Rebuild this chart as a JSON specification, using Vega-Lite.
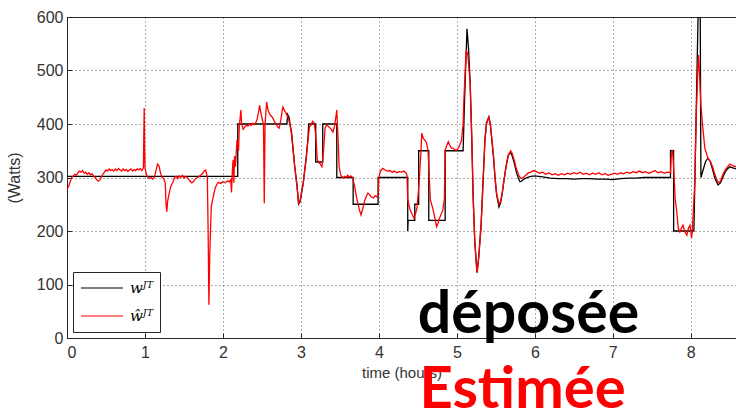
{
"$schema": "https://vega.github.io/schema/vega-lite/v6.json",
"width": 669, "height": 321,
"autosize": {"type": "none"},
"padding": {"left": 67, "top": 17, "right": 0, "bottom": 76},
"background": "white",
"config": {
  "view": {"stroke": "#262626", "strokeWidth": 1},
  "axis": {"labelFont": "Liberation Sans", "labelFontSize": 16, "labelColor": "#333333", "titleFont": "Liberation Sans", "titleFontSize": 15, "titleFontWeight": "normal", "titleColor": "#333333", "domainColor": "#262626", "tickColor": "#262626", "gridColor": "#333333", "gridDash": [1, 3], "gridOpacity": 0.8, "tickSize": -5}
},
"datasets": {
  "black": [
    {"t":0,"w":302},{"t":2.19,"w":302},{"t":2.19,"w":400},{"t":2.82,"w":400},{"t":2.83,"w":418},{"t":2.85,"w":412},{"t":2.86,"w":400},{"t":2.88,"w":385},{"t":2.9,"w":352},{"t":2.92,"w":322},{"t":2.95,"w":285},{"t":2.97,"w":250},{"t":2.99,"w":255},{"t":3.01,"w":272},{"t":3.03,"w":290},{"t":3.05,"w":315},{"t":3.07,"w":340},{"t":3.09,"w":372},{"t":3.1,"w":400},{"t":3.19,"w":400},{"t":3.19,"w":329},{"t":3.28,"w":329},{"t":3.28,"w":400},{"t":3.46,"w":400},{"t":3.46,"w":300},{"t":3.67,"w":300},{"t":3.67,"w":250},{"t":3.99,"w":250},{"t":3.99,"w":300},{"t":4.37,"w":300},{"t":4.37,"w":200},{"t":4.375,"w":220},{"t":4.46,"w":220},{"t":4.46,"w":250},{"t":4.51,"w":250},{"t":4.51,"w":350},{"t":4.64,"w":350},{"t":4.64,"w":220},{"t":4.85,"w":220},{"t":4.85,"w":350},{"t":5.08,"w":350},{"t":5.1,"w":450},{"t":5.13,"w":578},{"t":5.15,"w":540},{"t":5.17,"w":480},{"t":5.19,"w":380},{"t":5.21,"w":260},{"t":5.23,"w":180},{"t":5.26,"w":122},{"t":5.28,"w":150},{"t":5.31,"w":210},{"t":5.33,"w":275},{"t":5.36,"w":370},{"t":5.38,"w":402},{"t":5.41,"w":413},{"t":5.43,"w":398},{"t":5.45,"w":368},{"t":5.47,"w":338},{"t":5.49,"w":298},{"t":5.51,"w":268},{"t":5.54,"w":245},{"t":5.56,"w":252},{"t":5.58,"w":268},{"t":5.6,"w":290},{"t":5.63,"w":320},{"t":5.66,"w":342},{"t":5.69,"w":347},{"t":5.71,"w":340},{"t":5.74,"w":325},{"t":5.76,"w":312},{"t":5.79,"w":298},{"t":5.81,"w":292},{"t":5.83,"w":293},{"t":5.86,"w":297},{"t":5.9,"w":300},{"t":5.95,"w":302},{"t":6.0,"w":303},{"t":6.1,"w":301},{"t":6.2,"w":299},{"t":6.3,"w":298},{"t":6.4,"w":298},{"t":6.5,"w":297},{"t":6.6,"w":298},{"t":6.7,"w":298},{"t":6.8,"w":297},{"t":6.9,"w":297},{"t":7.0,"w":296},{"t":7.1,"w":298},{"t":7.2,"w":299},{"t":7.3,"w":299},{"t":7.4,"w":300},{"t":7.5,"w":300},{"t":7.6,"w":300},{"t":7.74,"w":300},{"t":7.74,"w":350},{"t":7.78,"w":350},{"t":7.78,"w":200},{"t":8.04,"w":200},{"t":8.08,"w":500},{"t":8.1,"w":650},{"t":8.12,"w":650},{"t":8.13,"w":300},{"t":8.16,"w":315},{"t":8.19,"w":330},{"t":8.22,"w":336},{"t":8.25,"w":330},{"t":8.28,"w":315},{"t":8.31,"w":298},{"t":8.35,"w":286},{"t":8.38,"w":290},{"t":8.41,"w":300},{"t":8.44,"w":310},{"t":8.47,"w":316},{"t":8.5,"w":320},{"t":8.54,"w":318},{"t":8.58,"w":316}
  ],
  "red": [
    {"t":0,"w":278},{"t":0.02,"w":283},{"t":0.04,"w":292},{"t":0.06,"w":300},{"t":0.08,"w":303},{"t":0.1,"w":306},{"t":0.12,"w":304},{"t":0.14,"w":309},{"t":0.16,"w":312},{"t":0.18,"w":310},{"t":0.2,"w":313},{"t":0.22,"w":308},{"t":0.24,"w":310},{"t":0.26,"w":306},{"t":0.28,"w":309},{"t":0.3,"w":305},{"t":0.32,"w":307},{"t":0.34,"w":303},{"t":0.36,"w":300},{"t":0.38,"w":296},{"t":0.4,"w":293},{"t":0.42,"w":295},{"t":0.44,"w":301},{"t":0.46,"w":306},{"t":0.48,"w":310},{"t":0.5,"w":314},{"t":0.52,"w":312},{"t":0.54,"w":316},{"t":0.56,"w":313},{"t":0.58,"w":315},{"t":0.6,"w":312},{"t":0.62,"w":316},{"t":0.64,"w":313},{"t":0.66,"w":317},{"t":0.68,"w":314},{"t":0.7,"w":312},{"t":0.72,"w":316},{"t":0.74,"w":313},{"t":0.76,"w":315},{"t":0.78,"w":311},{"t":0.8,"w":314},{"t":0.82,"w":316},{"t":0.84,"w":312},{"t":0.86,"w":315},{"t":0.88,"w":313},{"t":0.9,"w":316},{"t":0.92,"w":314},{"t":0.94,"w":317},{"t":0.96,"w":313},{"t":0.98,"w":318},{"t":0.985,"w":380},{"t":0.99,"w":430},{"t":0.995,"w":360},{"t":1.0,"w":318},{"t":1.02,"w":305},{"t":1.04,"w":300},{"t":1.06,"w":298},{"t":1.08,"w":300},{"t":1.1,"w":297},{"t":1.12,"w":300},{"t":1.14,"w":312},{"t":1.16,"w":325},{"t":1.18,"w":322},{"t":1.2,"w":308},{"t":1.22,"w":300},{"t":1.24,"w":298},{"t":1.26,"w":290},{"t":1.27,"w":250},{"t":1.28,"w":236},{"t":1.29,"w":255},{"t":1.31,"w":270},{"t":1.33,"w":283},{"t":1.36,"w":292},{"t":1.38,"w":300},{"t":1.4,"w":302},{"t":1.42,"w":298},{"t":1.44,"w":303},{"t":1.46,"w":300},{"t":1.48,"w":304},{"t":1.5,"w":299},{"t":1.52,"w":302},{"t":1.54,"w":300},{"t":1.56,"w":297},{"t":1.58,"w":293},{"t":1.6,"w":290},{"t":1.62,"w":292},{"t":1.64,"w":296},{"t":1.66,"w":299},{"t":1.68,"w":300},{"t":1.7,"w":303},{"t":1.72,"w":305},{"t":1.74,"w":308},{"t":1.76,"w":312},{"t":1.78,"w":314},{"t":1.8,"w":300},{"t":1.81,"w":200},{"t":1.82,"w":62},{"t":1.83,"w":150},{"t":1.85,"w":245},{"t":1.87,"w":260},{"t":1.9,"w":280},{"t":1.92,"w":287},{"t":1.94,"w":291},{"t":1.97,"w":289},{"t":2.0,"w":292},{"t":2.03,"w":290},{"t":2.06,"w":294},{"t":2.08,"w":292},{"t":2.1,"w":296},{"t":2.11,"w":272},{"t":2.12,"w":310},{"t":2.13,"w":333},{"t":2.14,"w":290},{"t":2.15,"w":340},{"t":2.16,"w":320},{"t":2.18,"w":370},{"t":2.2,"w":350},{"t":2.21,"w":395},{"t":2.23,"w":426},{"t":2.24,"w":400},{"t":2.26,"w":390},{"t":2.28,"w":394},{"t":2.3,"w":398},{"t":2.32,"w":396},{"t":2.34,"w":400},{"t":2.36,"w":397},{"t":2.38,"w":401},{"t":2.4,"w":399},{"t":2.42,"w":402},{"t":2.44,"w":410},{"t":2.46,"w":425},{"t":2.47,"w":435},{"t":2.49,"w":418},{"t":2.51,"w":405},{"t":2.52,"w":400},{"t":2.53,"w":252},{"t":2.54,"w":400},{"t":2.56,"w":441},{"t":2.58,"w":425},{"t":2.6,"w":418},{"t":2.62,"w":415},{"t":2.64,"w":411},{"t":2.66,"w":405},{"t":2.68,"w":400},{"t":2.7,"w":395},{"t":2.72,"w":392},{"t":2.74,"w":405},{"t":2.76,"w":425},{"t":2.77,"w":432},{"t":2.79,"w":425},{"t":2.82,"w":417},{"t":2.84,"w":410},{"t":2.86,"w":398},{"t":2.88,"w":380},{"t":2.9,"w":351},{"t":2.92,"w":320},{"t":2.95,"w":283},{"t":2.97,"w":252},{"t":2.99,"w":258},{"t":3.01,"w":275},{"t":3.03,"w":289},{"t":3.05,"w":315},{"t":3.07,"w":339},{"t":3.09,"w":370},{"t":3.11,"w":395},{"t":3.13,"w":398},{"t":3.15,"w":405},{"t":3.17,"w":402},{"t":3.19,"w":380},{"t":3.21,"w":333},{"t":3.23,"w":328},{"t":3.25,"w":325},{"t":3.27,"w":320},{"t":3.29,"w":350},{"t":3.31,"w":392},{"t":3.33,"w":398},{"t":3.35,"w":396},{"t":3.37,"w":393},{"t":3.39,"w":390},{"t":3.41,"w":385},{"t":3.43,"w":395},{"t":3.45,"w":415},{"t":3.46,"w":426},{"t":3.48,"w":360},{"t":3.49,"w":320},{"t":3.51,"w":305},{"t":3.54,"w":299},{"t":3.56,"w":302},{"t":3.58,"w":300},{"t":3.6,"w":304},{"t":3.62,"w":301},{"t":3.64,"w":303},{"t":3.66,"w":300},{"t":3.67,"w":295},{"t":3.69,"w":283},{"t":3.71,"w":265},{"t":3.73,"w":252},{"t":3.75,"w":240},{"t":3.77,"w":230},{"t":3.79,"w":240},{"t":3.82,"w":258},{"t":3.84,"w":265},{"t":3.86,"w":271},{"t":3.88,"w":268},{"t":3.9,"w":264},{"t":3.93,"w":262},{"t":3.95,"w":266},{"t":3.97,"w":264},{"t":3.99,"w":268},{"t":4.0,"w":300},{"t":4.02,"w":312},{"t":4.05,"w":317},{"t":4.08,"w":314},{"t":4.11,"w":312},{"t":4.14,"w":313},{"t":4.17,"w":310},{"t":4.2,"w":312},{"t":4.23,"w":309},{"t":4.26,"w":311},{"t":4.29,"w":310},{"t":4.32,"w":312},{"t":4.35,"w":308},{"t":4.36,"w":305},{"t":4.37,"w":258},{"t":4.4,"w":240},{"t":4.42,"w":233},{"t":4.45,"w":224},{"t":4.47,"w":232},{"t":4.49,"w":245},{"t":4.51,"w":280},{"t":4.52,"w":301},{"t":4.54,"w":350},{"t":4.55,"w":383},{"t":4.57,"w":373},{"t":4.59,"w":370},{"t":4.61,"w":365},{"t":4.63,"w":351},{"t":4.64,"w":320},{"t":4.66,"w":258},{"t":4.68,"w":248},{"t":4.69,"w":243},{"t":4.71,"w":230},{"t":4.74,"w":208},{"t":4.76,"w":215},{"t":4.77,"w":221},{"t":4.8,"w":232},{"t":4.82,"w":239},{"t":4.84,"w":260},{"t":4.85,"w":351},{"t":4.87,"w":360},{"t":4.89,"w":367},{"t":4.91,"w":360},{"t":4.93,"w":355},{"t":4.95,"w":355},{"t":4.97,"w":352},{"t":5.0,"w":351},{"t":5.03,"w":358},{"t":5.06,"w":370},{"t":5.08,"w":400},{"t":5.09,"w":445},{"t":5.11,"w":510},{"t":5.12,"w":538},{"t":5.14,"w":530},{"t":5.17,"w":477},{"t":5.19,"w":380},{"t":5.21,"w":258},{"t":5.23,"w":180},{"t":5.25,"w":135},{"t":5.26,"w":123},{"t":5.28,"w":150},{"t":5.31,"w":208},{"t":5.33,"w":270},{"t":5.36,"w":370},{"t":5.38,"w":400},{"t":5.41,"w":413},{"t":5.43,"w":400},{"t":5.45,"w":370},{"t":5.47,"w":340},{"t":5.49,"w":300},{"t":5.51,"w":270},{"t":5.54,"w":250},{"t":5.56,"w":255},{"t":5.58,"w":270},{"t":5.6,"w":290},{"t":5.63,"w":320},{"t":5.66,"w":342},{"t":5.69,"w":350},{"t":5.71,"w":345},{"t":5.74,"w":330},{"t":5.76,"w":318},{"t":5.79,"w":305},{"t":5.81,"w":300},{"t":5.83,"w":298},{"t":5.86,"w":301},{"t":5.89,"w":305},{"t":5.92,"w":309},{"t":5.95,"w":310},{"t":5.98,"w":313},{"t":6.02,"w":311},{"t":6.06,"w":308},{"t":6.1,"w":310},{"t":6.14,"w":306},{"t":6.18,"w":309},{"t":6.22,"w":305},{"t":6.26,"w":307},{"t":6.3,"w":304},{"t":6.34,"w":307},{"t":6.38,"w":305},{"t":6.42,"w":308},{"t":6.46,"w":306},{"t":6.5,"w":309},{"t":6.54,"w":307},{"t":6.58,"w":310},{"t":6.62,"w":306},{"t":6.66,"w":308},{"t":6.7,"w":305},{"t":6.74,"w":308},{"t":6.78,"w":306},{"t":6.82,"w":309},{"t":6.86,"w":305},{"t":6.9,"w":307},{"t":6.94,"w":304},{"t":6.98,"w":306},{"t":7.02,"w":308},{"t":7.06,"w":306},{"t":7.1,"w":309},{"t":7.14,"w":307},{"t":7.18,"w":310},{"t":7.22,"w":308},{"t":7.26,"w":311},{"t":7.3,"w":309},{"t":7.34,"w":312},{"t":7.38,"w":309},{"t":7.42,"w":311},{"t":7.46,"w":308},{"t":7.5,"w":310},{"t":7.54,"w":313},{"t":7.58,"w":309},{"t":7.62,"w":311},{"t":7.66,"w":308},{"t":7.7,"w":310},{"t":7.74,"w":309},{"t":7.75,"w":340},{"t":7.765,"w":352},{"t":7.78,"w":320},{"t":7.8,"w":260},{"t":7.82,"w":236},{"t":7.84,"w":205},{"t":7.86,"w":198},{"t":7.88,"w":205},{"t":7.9,"w":211},{"t":7.92,"w":200},{"t":7.95,"w":192},{"t":7.97,"w":205},{"t":7.99,"w":211},{"t":8.0,"w":200},{"t":8.01,"w":187},{"t":8.02,"w":200},{"t":8.03,"w":230},{"t":8.05,"w":286},{"t":8.07,"w":417},{"t":8.09,"w":500},{"t":8.1,"w":529},{"t":8.11,"w":500},{"t":8.13,"w":435},{"t":8.15,"w":400},{"t":8.18,"w":355},{"t":8.22,"w":336},{"t":8.25,"w":330},{"t":8.28,"w":320},{"t":8.31,"w":305},{"t":8.35,"w":290},{"t":8.38,"w":293},{"t":8.41,"w":305},{"t":8.44,"w":314},{"t":8.47,"w":320},{"t":8.5,"w":325},{"t":8.54,"w":322},{"t":8.58,"w":320}
  ]
},
"layer": [
  {
    "data": {"name": "black"},
    "mark": {"type": "line", "strokeWidth": 1.3, "clip": true},
    "encoding": {
      "x": {"field": "t", "type": "quantitative", "scale": {"domain": [0, 8.58], "nice": false, "zero": false}, "axis": {"values": [0,1,2,3,4,5,6,7,8], "title": "time (hours)", "format": "d", "labelPadding": 11, "titlePadding": 5}},
      "y": {"field": "w", "type": "quantitative", "scale": {"domain": [0, 600], "nice": false}, "axis": {"values": [0,100,200,300,400,500,600], "title": "(Watts)", "format": "d", "labelPadding": 9, "titlePadding": 14, "titleFontSize": 16}},
      "color": {"datum": "wᴶᵀ", "type": "nominal", "scale": {"domain": ["wᴶᵀ", "ŵᴶᵀ"], "range": ["#000000", "#ff0000"]},
        "legend": {"title": null, "orient": "bottom-left", "offset": 6, "strokeColor": "#262626", "fillColor": "white", "padding": 7, "symbolType": "stroke", "symbolSize": 1764, "symbolStrokeWidth": 1.2, "clipHeight": 18, "rowPadding": 10, "labelFont": "DejaVu Serif", "labelFontStyle": "italic", "labelFontSize": 15, "labelOffset": 6, "labelColor": "#000000"}},
      "order": {"value": null}
    }
  },
  {
    "data": {"name": "red"},
    "mark": {"type": "line", "strokeWidth": 1.3, "clip": true},
    "encoding": {
      "x": {"field": "t", "type": "quantitative"},
      "y": {"field": "w", "type": "quantitative"},
      "color": {"datum": "ŵᴶᵀ", "type": "nominal"},
      "order": {"value": null}
    }
  },
  {
    "data": {"values": [{"label": "déposée", "t": 4.5, "w": 9}]},
    "mark": {"type": "text", "font": "Lato", "fontWeight": "bold", "fontSize": 59, "color": "#000000", "align": "left", "baseline": "alphabetic", "clip": false},
    "encoding": {"x": {"field": "t", "type": "quantitative"}, "y": {"field": "w", "type": "quantitative"}, "text": {"field": "label"}}
  },
  {
    "data": {"values": [{"label": "Estimée", "t": 4.52, "w": -131}]},
    "mark": {"type": "text", "font": "Lato", "fontWeight": "bold", "fontSize": 58, "color": "#ff0000", "align": "left", "baseline": "alphabetic", "clip": false},
    "encoding": {"x": {"field": "t", "type": "quantitative"}, "y": {"field": "w", "type": "quantitative"}, "text": {"field": "label"}}
  }
]
}
